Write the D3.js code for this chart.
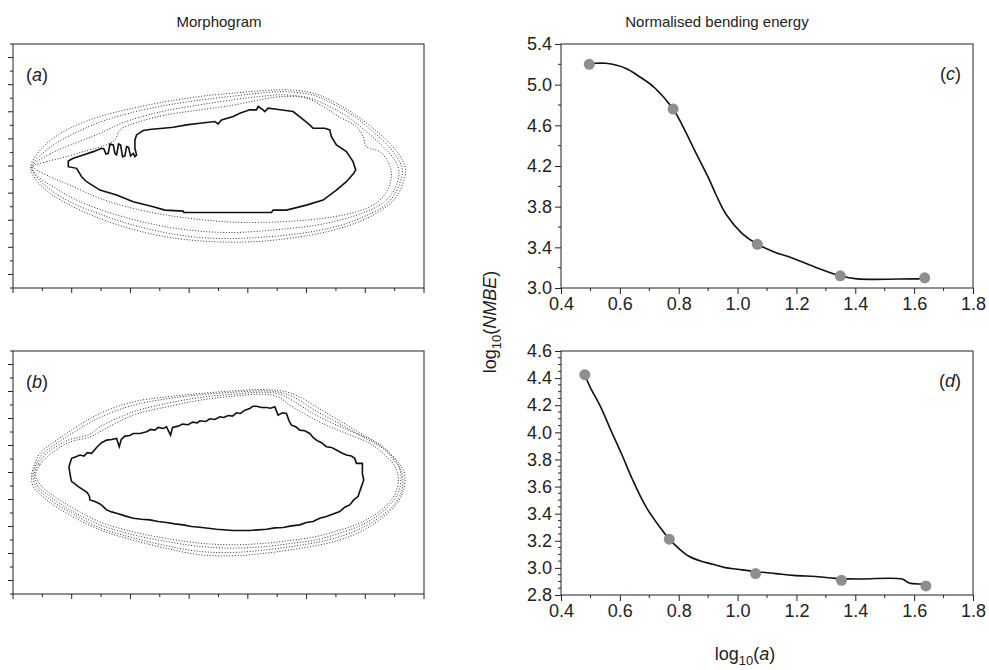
<!DOCTYPE html>
<html lang="en">
<head>
<meta charset="UTF-8" />
<title>Morphogram and bending energy</title>
<style>
  body { margin: 0; background: #fff; }
  text { font-family: "Liberation Sans", Arial, sans-serif; fill: #222; }
</style>
</head>
<body>
<svg id="svg" width="989" height="670"></svg>
<script src="https://cdn.jsdelivr.net/npm/d3@7"></script>
<script>
// ---- data: normalised bending energy ----
const logA_c = [0.496, 0.781, 1.067, 1.349, 1.636];
const nmbe_c = [5.20, 4.76, 3.43, 3.12, 3.10];
const fit_c = [
  [0.496, 5.20], [0.518, 5.21], [0.552, 5.21], [0.621, 5.16], [0.666, 5.08],
  [0.718, 4.97], [0.781, 4.76], [0.814, 4.59], [0.86, 4.32], [0.90, 4.09],
  [0.928, 3.91], [0.962, 3.72], [1.014, 3.54], [1.067, 3.43], [1.12, 3.36],
  [1.19, 3.29], [1.26, 3.21], [1.349, 3.12], [1.406, 3.09], [1.60, 3.09], [1.636, 3.09]
];
const logA_d = [0.481, 0.768, 1.061, 1.353, 1.640];
const nmbe_d = [4.425, 3.212, 2.958, 2.908, 2.867];
const fit_d = [
  [0.481, 4.425], [0.499, 4.334], [0.535, 4.186], [0.57, 4.013], [0.606, 3.84],
  [0.642, 3.656], [0.69, 3.446], [0.737, 3.298], [0.768, 3.212], [0.797, 3.15],
  [0.833, 3.088], [0.874, 3.051], [0.916, 3.027], [0.958, 3.002], [1.0, 2.99],
  [1.061, 2.973], [1.13, 2.958], [1.19, 2.945], [1.273, 2.935], [1.333, 2.923],
  [1.416, 2.918], [1.559, 2.918], [1.583, 2.888], [1.64, 2.883]
];
const xTicks = [0.4, 0.6, 0.8, 1.0, 1.2, 1.4, 1.6, 1.8];
const yTicks_c = [3.0, 3.4, 3.8, 4.2, 4.6, 5.0, 5.4];
const yTicks_d = [2.8, 3.0, 3.2, 3.4, 3.6, 3.8, 4.0, 4.2, 4.4, 4.6];

// ---- data: morphogram outlines (digitiser units, y grows downward) ----
const solid_a = [
  [205,393],[205,410],[230,415],[245,440],[260,455],[300,480],[350,495],[400,515],[460,530],
  [495,540],[550,543],[552,547],[565,547],[700,547],[815,547],[820,540],[860,540],[920,525],
  [970,510],[1010,480],[1040,455],[1062,430],[1068,420],[1060,395],[1040,365],[1010,345],
  [995,320],[990,300],[975,295],[940,295],[930,285],[905,265],[880,245],[830,238],[805,235],
  [795,245],[790,240],[775,230],[770,240],[750,240],[720,250],[700,260],[665,270],[655,282],
  [645,275],[600,280],[560,285],[520,292],[490,295],[455,298],[430,302],[410,315],[405,330],
  [405,355],[410,375],[405,380],[400,370],[392,378],[386,352],[380,350],[375,378],[368,380],
  [362,345],[356,342],[350,375],[345,370],[340,345],[330,342],[325,370],[318,372],[312,357],
  [305,355],[280,365],[250,375],[220,385]
];
const dotted_a = [
  [[92,410],[130,350],[200,300],[300,260],[400,235],[500,215],[600,200],[700,190],[800,182],
   [860,180],[940,190],[1000,215],[1060,250],[1120,295],[1170,340],[1205,385],[1218,420],
   [1210,460],[1190,500],[1160,530],[1110,560],[1050,585],[980,605],[900,620],[800,632],
   [700,636],[600,632],[500,620],[400,598],[300,565],[220,530],[150,490],[105,445]],
  [[95,410],[140,360],[200,322],[300,277],[400,247],[500,226],[600,211],[700,199],[800,188],
   [860,186],[940,196],[1000,222],[1060,257],[1110,297],[1160,342],[1195,386],[1208,420],
   [1200,460],[1180,500],[1150,530],[1100,556],[1040,580],[970,598],[900,610],[800,620],
   [700,625],[600,622],[500,608],[400,585],[300,552],[220,520],[155,482],[110,440]],
  [[97,410],[150,372],[230,338],[300,310],[360,282],[420,262],[500,242],[600,225],[700,210],
   [780,200],[850,195],[930,205],[990,230],[1050,265],[1100,305],[1150,350],[1185,390],
   [1198,425],[1190,465],[1170,500],[1135,528],[1085,550],[1020,570],[950,585],[870,595],
   [780,603],[700,607],[600,603],[500,590],[400,568],[300,538],[220,505],[160,470],[115,440]],
  [[100,410],[140,395],[200,380],[260,362],[305,350],[345,330],[360,300],[420,275],[500,255],
   [600,240],[700,226],[780,210],[850,200],[920,205],[970,230],[1020,262],[1070,290],
   [1090,320],[1100,350],[1140,365],[1165,395],[1175,430],[1168,470],[1150,500],[1120,525],
   [1070,545],[1000,560],[920,570],[840,575],[760,577],[680,575],[600,568],[500,555],
   [400,535],[300,505],[210,465],[150,440]]
];
const solid_b = [
  [207,500],[215,475],[228,470],[240,465],[252,468],[262,458],[275,460],[285,448],[292,440],
  [305,428],[320,420],[335,418],[350,415],[358,440],[364,418],[375,408],[390,406],[400,400],
  [420,400],[440,395],[452,388],[465,390],[475,382],[490,385],[500,380],[512,405],[518,382],
  [535,378],[548,372],[565,374],[578,366],[592,368],[600,362],[618,364],[630,356],[645,358],
  [660,350],[672,352],[685,346],[698,348],[710,338],[722,340],[735,330],[750,325],[760,318],
  [770,318],[785,322],[800,322],[812,324],[825,320],[835,345],[848,338],[860,340],[868,362],
  [875,375],[888,380],[900,390],[915,392],[930,400],[940,412],[950,420],[965,428],[980,440],
  [995,442],[1010,450],[1025,458],[1040,465],[1055,468],[1065,475],[1070,490],[1088,490],
  [1088,520],[1092,540],[1085,560],[1080,575],[1075,590],[1062,600],[1050,615],[1035,622],
  [1020,635],[1000,642],[980,650],[960,655],[940,665],[920,668],[900,675],[875,678],[850,683],
  [825,684],[800,688],[775,690],[750,692],[700,692],[650,688],[600,682],[575,680],[550,675],
  [525,672],[500,668],[475,665],[450,660],[425,658],[400,655],[375,648],[350,640],[335,636],
  [320,630],[310,620],[300,612],[285,605],[270,600],[268,588],[262,578],[250,570],[235,560],
  [225,552],[215,545],[212,532],[210,520]
];
const dotted_b = [
  [[95,525],[105,490],[120,460],[200,400],[300,340],[400,305],[500,290],[600,280],[700,272],
   [800,268],[860,275],[900,290],[950,320],[1000,350],[1050,380],[1100,410],[1150,440],
   [1190,480],[1214,520],[1212,570],[1192,610],[1152,650],[1100,686],[1050,710],[980,731],
   [900,746],[800,760],[700,768],[600,765],[500,746],[400,721],[300,690],[200,640],[140,600],
   [100,560]],
  [[99,525],[110,490],[128,462],[200,410],[300,352],[400,315],[500,296],[600,284],[700,276],
   [800,272],[855,280],[895,298],[945,330],[1000,360],[1050,388],[1100,416],[1150,446],
   [1185,484],[1208,524],[1206,572],[1185,612],[1145,648],[1095,680],[1040,704],[970,724],
   [890,738],[800,750],[700,758],[600,755],[500,738],[400,714],[300,684],[205,634],[145,595],
   [107,558]],
  [[103,525],[115,492],[135,465],[200,422],[270,402],[300,380],[400,335],[500,310],[600,292],
   [700,282],[790,276],[840,282],[880,302],[940,340],[1000,370],[1060,396],[1120,422],
   [1160,452],[1195,492],[1204,530],[1195,580],[1170,615],[1130,650],[1080,678],[1020,700],
   [950,720],[880,730],[800,740],[700,745],[600,740],[500,725],[400,705],[300,675],[210,630],
   [150,590],[115,560]],
  [[107,525],[120,494],[142,470],[205,428],[272,410],[305,392],[400,345],[500,320],[600,300],
   [700,288],[790,282],[835,290],[870,315],[930,350],[990,380],[1050,404],[1110,430],
   [1150,460],[1185,498],[1196,534],[1186,582],[1160,616],[1120,648],[1070,674],[1010,694],
   [940,712],[870,722],[800,730],[700,735],[600,730],[500,716],[400,696],[300,666],[215,622],
   [157,585],[122,556]]
];

const svg = d3.select('#svg');
const ink = '#222';

// ---- titles ----
svg.append('text').attr('x', 219).attr('y', 27).attr('text-anchor', 'middle')
  .style('font-size', '15px').text('Morphogram');
svg.append('text').attr('x', 717).attr('y', 27).attr('text-anchor', 'middle')
  .style('font-size', '15px').text('Normalised bending energy');

// ---- morphogram panels ----
function morphPanel(box, xDom, yDom, solid, dotted, label) {
  const x = d3.scaleLinear().domain(xDom).range([box.x0, box.x1]);
  const y = d3.scaleLinear().domain(yDom).range([box.y0, box.y1]);
  const g = svg.append('g');
  // frame
  g.append('rect').attr('x', box.x0).attr('y', box.y0)
    .attr('width', box.x1 - box.x0).attr('height', box.y1 - box.y0)
    .attr('fill', 'none').attr('stroke', ink).attr('stroke-width', 1);
  // ticks (no labels)
  const bx = d3.range(15).map(i => xDom[0] + i * (xDom[1] - xDom[0]) / 14);
  g.selectAll('.bt').data(bx).enter().append('line')
    .attr('x1', d => x(d)).attr('x2', d => x(d))
    .attr('y1', box.y1).attr('y2', (d, i) => box.y1 + (i % 2 ? 3 : 5))
    .attr('stroke', ink);
  const ly = d3.range(19).map(i => yDom[0] + i * (yDom[1] - yDom[0]) / 18);
  g.selectAll('.lt').data(ly).enter().append('line')
    .attr('y1', d => y(d)).attr('y2', d => y(d))
    .attr('x1', box.x0).attr('x2', (d, i) => box.x0 - (i % 2 ? 5 : 3))
    .attr('stroke', ink);

  const smooth = d3.line().x(d => x(d[0])).y(d => y(d[1])).curve(d3.curveCatmullRomClosed);
  g.selectAll('.dot').data(dotted).enter().append('path')
    .attr('d', smooth).attr('fill', 'none').attr('stroke', '#333')
    .attr('stroke-width', 1).attr('stroke-dasharray', '1 1.8');
  const rough = d3.line().x(d => x(d[0])).y(d => y(d[1])).curve(d3.curveLinearClosed);
  g.append('path').attr('d', rough(solid)).attr('fill', 'none')
    .attr('stroke', '#111').attr('stroke-width', 1.6);

  const t = g.append('text').attr('x', box.x0 + 13).attr('y', box.y0 + 37)
    .style('font-size', '18px');
  t.append('tspan').text('(');
  t.append('tspan').style('font-style', 'italic').text(label);
  t.append('tspan').text(')');
}

morphPanel({x0: 13, x1: 424, y0: 44, y1: 288}, [39, 1273], [43, 773], solid_a, dotted_a, 'a');
morphPanel({x0: 13, x1: 424, y0: 351, y1: 594}, [39, 1273], [152, 883], solid_b, dotted_b, 'b');

// ---- energy panels ----
function energyPanel(box, yDom, yTicks, yMinorStep, xs, ys, fit, label) {
  const x = d3.scaleLinear().domain([0.4, 1.8]).range([box.x0, box.x1]);
  const y = d3.scaleLinear().domain(yDom).range([box.y1, box.y0]);
  const g = svg.append('g');

  // minor ticks
  const xMinor = d3.range(0.5, 1.8, 0.2);
  g.selectAll('.xm').data(xMinor).enter().append('line')
    .attr('x1', d => x(d)).attr('x2', d => x(d))
    .attr('y1', box.y1).attr('y2', box.y1 + 3).attr('stroke', ink);
  const yMinor = d3.range(yDom[0], yDom[1] + 1e-9, yMinorStep)
    .filter(v => !yTicks.some(t => Math.abs(t - v) < 1e-6));
  g.selectAll('.ym').data(yMinor).enter().append('line')
    .attr('y1', d => y(d)).attr('y2', d => y(d))
    .attr('x1', box.x0).attr('x2', box.x0 - 3).attr('stroke', ink);

  const xAxis = d3.axisBottom(x).tickValues(xTicks).tickSize(6).tickPadding(3)
    .tickFormat(d3.format('.1f'));
  const yAxis = d3.axisLeft(y).tickValues(yTicks).tickSize(6).tickPadding(3)
    .tickFormat(d3.format('.1f'));
  const gx = g.append('g').attr('transform', `translate(0,${box.y1})`).call(xAxis);
  const gy = g.append('g').attr('transform', `translate(${box.x0},0)`).call(yAxis);
  [gx, gy].forEach(a => {
    a.select('.domain').remove();
    a.selectAll('line').attr('stroke', ink);
    a.selectAll('text').style('font-size', '18px')
      .style('font-family', '"Liberation Sans", Arial, sans-serif').attr('fill', ink);
  });

  g.append('rect').attr('x', box.x0).attr('y', box.y0)
    .attr('width', box.x1 - box.x0).attr('height', box.y1 - box.y0)
    .attr('fill', 'none').attr('stroke', ink).attr('stroke-width', 1);

  g.append('path').datum(fit)
    .attr('d', d3.line().x(d => x(d[0])).y(d => y(d[1])).curve(d3.curveCatmullRom))
    .attr('fill', 'none').attr('stroke', '#111').attr('stroke-width', 1.6);

  g.selectAll('.pt').data(xs).enter().append('circle')
    .attr('cx', d => x(d)).attr('cy', (d, i) => y(ys[i])).attr('r', 5.5)
    .attr('fill', '#8e8e8e');

  const t = g.append('text').attr('x', box.x1 - 12).attr('y', box.y0 + 36)
    .attr('text-anchor', 'end').style('font-size', '18px');
  t.append('tspan').text('(');
  t.append('tspan').style('font-style', 'italic').text(label);
  t.append('tspan').text(')');
}

energyPanel({x0: 561, x1: 973, y0: 44, y1: 288}, [3.0, 5.4], yTicks_c, 0.2,
  logA_c, nmbe_c, fit_c, 'c');
energyPanel({x0: 561, x1: 973, y0: 351, y1: 595}, [2.8, 4.6], yTicks_d, 0.05,
  logA_d, nmbe_d, fit_d, 'd');

// ---- shared axis titles ----
const yl = svg.append('text')
  .attr('transform', 'translate(496,322) rotate(-90)')
  .attr('text-anchor', 'middle').style('font-size', '18px');
yl.append('tspan').text('log');
yl.append('tspan').attr('dy', 5).style('font-size', '13px').text('10');
yl.append('tspan').attr('dy', -5).text('(');
yl.append('tspan').style('font-style', 'italic').text('NMBE');
yl.append('tspan').text(')');

const xl = svg.append('text').attr('x', 745).attr('y', 660)
  .attr('text-anchor', 'middle').style('font-size', '18px');
xl.append('tspan').text('log');
xl.append('tspan').attr('dy', 5).style('font-size', '13px').text('10');
xl.append('tspan').attr('dy', -5).text('(');
xl.append('tspan').style('font-style', 'italic').text('a');
xl.append('tspan').text(')');
</script>
</body>
</html>
